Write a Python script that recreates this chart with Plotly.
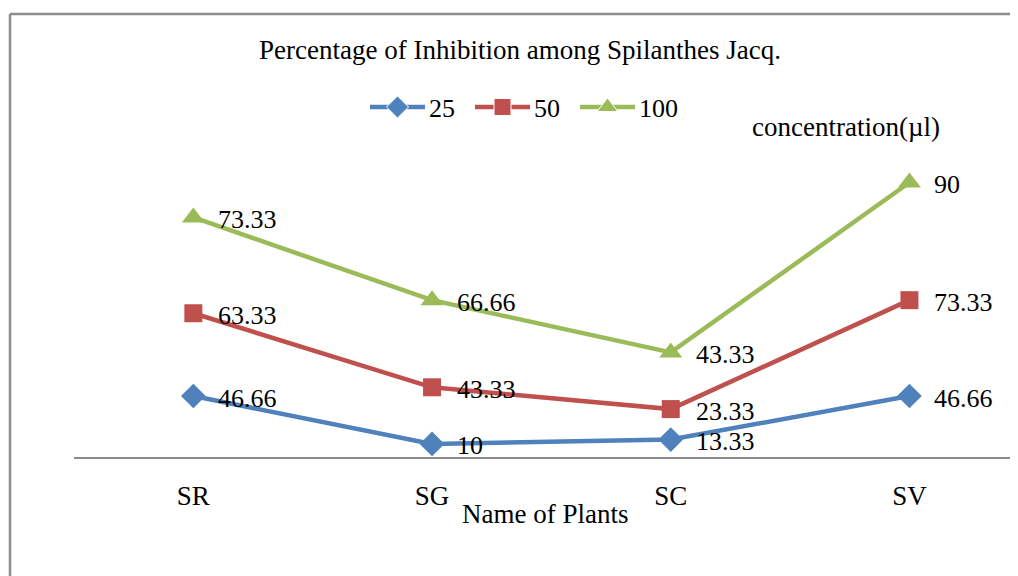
import numpy as np
import plotly.graph_objects as go

plants = ["SR", "SG", "SC", "SV"]
conc_25 = [46.66, 10, 13.33, 46.66]
conc_50 = [63.33, 43.33, 23.33, 73.33]
conc_100 = [73.33, 66.66, 43.33, 90]
series_names = ["25", "50", "100"]
title_text = "Percentage of Inhibition among Spilanthes Jacq."
x_title = "Name of Plants"
legend_title = "concentration(µl)"

colors = ["#4F81BD", "#C0504D", "#9BBB59"]
symbols = ["diamond", "square", "triangle-up"]
sizes = [19, 18, 20]
FONT = "Liberation Serif, Times New Roman, serif"

# page has 8px body margin; positions below are given in reference pixels
OFF = 8
W, H = 1010, 568
L, R, T, B = 66, 0, 0, 119
pw, ph = W - L - R, H - T - B
plot_top = 135            # figure px of main plot-area top
main_h = (H - B) - plot_top
step = 238.7              # px between categories

fig = go.Figure()
all_series = [conc_25, conc_50, conc_100]
for name, vals, c, s, sz in zip(series_names, all_series, colors, symbols, sizes):
    fig.add_trace(go.Scatter(
        x=plants, y=vals, name=name, stackgroup="one", fill="none",
        mode="lines+markers",
        line=dict(color=c, width=4.5),
        marker=dict(symbol=s, size=sz, color=c, opacity=1),
        hoverinfo="skip", showlegend=False,
    ))

cum = np.cumsum(np.array(all_series), axis=0)
annotations = []
for i, vals in enumerate(all_series):
    for j, v in enumerate(vals):
        annotations.append(dict(
            x=plants[j], y=cum[i][j], xref="x", yref="y",
            text=f"{v:g}", showarrow=False, xanchor="left", yanchor="middle",
            xshift=23, yshift=-2, font=dict(family=FONT, size=26, color="#000"),
        ))

def px_to_paper_x(px):
    return (px - OFF - L) / pw

def px_to_paper_y(py):
    return (H - B - (py - OFF)) / ph

annotations.append(dict(
    x=px_to_paper_x(545), y=px_to_paper_y(514), xref="paper", yref="paper",
    text=x_title, showarrow=False, xanchor="center", yanchor="middle",
    font=dict(family=FONT, size=27, color="#000"),
))
annotations.append(dict(
    x=px_to_paper_x(846), y=px_to_paper_y(127), xref="paper", yref="paper",
    text=legend_title, showarrow=False, xanchor="center", yanchor="middle",
    font=dict(family=FONT, size=27, color="#000"),
))

shapes = [
    dict(type="line", xref="paper", yref="paper",
         x0=px_to_paper_x(10), x1=px_to_paper_x(1040),
         y0=px_to_paper_y(14), y1=px_to_paper_y(14),
         line=dict(color="#8C8C8C", width=2.5)),
    dict(type="line", xref="paper", yref="paper",
         x0=px_to_paper_x(10), x1=px_to_paper_x(10),
         y0=px_to_paper_y(14), y1=px_to_paper_y(600),
         line=dict(color="#8C8C8C", width=2.5)),
]

# custom legend (Excel-style long line samples)
leg_y = 107
leg_x0 = [370, 475, 580]
leg_len = 55
leg_cx = []
for name, c, x0 in zip(series_names, colors, leg_x0):
    shapes.append(dict(type="line", xref="paper", yref="paper", layer="below",
                       x0=px_to_paper_x(x0), x1=px_to_paper_x(x0 + leg_len),
                       y0=px_to_paper_y(leg_y), y1=px_to_paper_y(leg_y),
                       line=dict(color=c, width=4.5)))
    leg_cx.append(x0 + leg_len / 2)
    annotations.append(dict(
        x=px_to_paper_x(x0 + leg_len + 2), y=px_to_paper_y(leg_y + 1),
        xref="paper", yref="paper", text=name, showarrow=False,
        xanchor="left", yanchor="middle",
        font=dict(family=FONT, size=26, color="#000")))

fig.add_trace(go.Scatter(
    x=leg_cx, y=[leg_y] * len(leg_cx), xaxis="x2", yaxis="y2",
    mode="markers", showlegend=False, hoverinfo="skip",
    marker=dict(symbol=symbols, size=[17, 17, 18], color=colors, opacity=1),
))

fig.update_layout(
    width=W, height=H,
    margin=dict(l=L, r=R, t=T, b=B, autoexpand=False),
    paper_bgcolor="white", plot_bgcolor="rgba(0,0,0,0)",
    title=dict(text=title_text, x=(520 - OFF) / W, xanchor="center",
               y=1 - (50 - OFF) / H, yanchor="middle",
               font=dict(family=FONT, size=27, color="#000")),
    showlegend=False,
    xaxis=dict(type="category", range=[-0.5, pw / step - 0.5],
               showgrid=False, zeroline=False, showline=True,
               linecolor="#8C8C8C", linewidth=2, ticks="",
               tickfont=dict(family=FONT, size=27, color="#000"),
               ticklabelstandoff=14),
    yaxis=dict(range=[0, main_h / 1.307], domain=[0, main_h / ph],
               visible=False, showgrid=False, zeroline=False),
    xaxis2=dict(anchor="y2", range=[L + OFF, W + OFF], visible=False,
                domain=[0, 1]),
    yaxis2=dict(anchor="x2", range=[H - B + OFF, OFF], visible=False,
                domain=[0, 1]),
    annotations=annotations, shapes=shapes,
)

fig.write_html("out.html")
